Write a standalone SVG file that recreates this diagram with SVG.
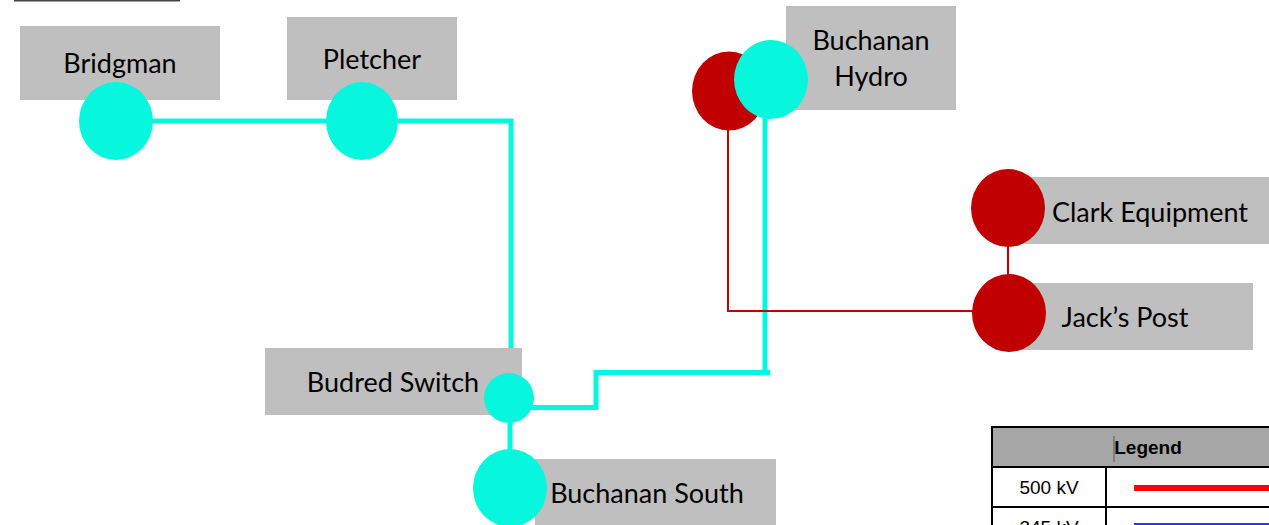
<svg xmlns="http://www.w3.org/2000/svg" width="1269" height="525" viewBox="0 0 1269 525">
<style>
.box{fill:#bfbfbf}
.lbl{font-family:Lato,"Open Sans",sans-serif;font-size:27px;fill:#000;text-anchor:middle}
.cyan{fill:#06f7dd}
.red{fill:#c00000}
.cl{stroke:#06f7dd;stroke-width:5;fill:none}
.rl{stroke:#c00000;stroke-width:2;fill:none}
.lg{font-family:"Liberation Sans",Arial,sans-serif;font-size:19px;fill:#000;text-anchor:middle}
</style>
<rect width="1269" height="525" fill="#fff"/>
<line x1="14" y1="0.5" x2="180" y2="0.5" stroke="#444" stroke-width="2"/>
<g id="connectors">
<polyline class="cl" points="116,121 511,121 511,350"/>
<polyline class="cl" points="509,407.5 596,407.5 596,372.5 770,372.5"/>
<line class="cl" x1="765" y1="372.5" x2="765" y2="100"/>
<line class="cl" x1="510" y1="410" x2="510" y2="460"/>
<polyline class="rl" points="728,120 728,311 985,311"/>
<line class="rl" x1="1008" y1="240" x2="1008" y2="285"/>
</g>
<g id="bridgman"><rect class="box" x="20" y="26" width="200" height="74"/><text class="lbl" x="120" y="73">Bridgman</text><ellipse class="cyan" cx="116" cy="121" rx="37" ry="39"/></g>
<g id="pletcher"><rect class="box" x="287" y="17" width="170" height="83"/><text class="lbl" x="372" y="69">Pletcher</text><ellipse class="cyan" cx="362" cy="121" rx="36" ry="39"/></g>
<g id="budred"><rect class="box" x="265" y="348" width="257" height="67"/><text class="lbl" x="393" y="392">Budred Switch</text><circle class="cyan" cx="509" cy="398" r="25"/></g>
<g id="buchanan-south"><rect class="box" x="535" y="459" width="241" height="66"/><text class="lbl" x="647" y="503">Buchanan South</text><ellipse class="cyan" cx="510" cy="488" rx="37" ry="39"/></g>
<g id="buchanan-hydro"><rect class="box" x="786" y="6" width="170" height="104"/><text class="lbl" x="871" y="50">Buchanan</text><text class="lbl" x="871" y="86">Hydro</text><ellipse class="red" cx="729" cy="91" rx="37" ry="39.5"/><ellipse class="cyan" cx="771" cy="79.5" rx="37" ry="39.5"/></g>
<g id="clark"><rect class="box" x="1010" y="177" width="259" height="67"/><text class="lbl" x="1150" y="222">Clark Equipment</text><ellipse class="red" cx="1008" cy="208" rx="37" ry="39"/></g>
<g id="jacks"><rect class="box" x="995" y="283" width="258" height="67"/><text class="lbl" x="1125" y="327">Jack’s Post</text><ellipse class="red" cx="1009" cy="313" rx="37" ry="39"/></g>
<g id="legend">
<rect x="992" y="427" width="290" height="110" fill="#fff" stroke="#000" stroke-width="2"/>
<rect x="993" y="428" width="288" height="39" fill="#a6a6a6"/>
<line x1="992" y1="467" x2="1269" y2="467" stroke="#000" stroke-width="2"/>
<line x1="992" y1="507" x2="1269" y2="507" stroke="#000" stroke-width="2"/>
<line x1="1106" y1="467" x2="1106" y2="525" stroke="#000" stroke-width="2"/>
<line x1="1114" y1="436" x2="1114" y2="462" stroke="#555" stroke-width="1"/>
<text class="lg" x="1148" y="454" font-weight="bold" font-size="18.5">Legend</text>
<text class="lg" x="1049" y="494">500 kV</text>
<text class="lg" x="1049" y="534">345 kV</text>
<line x1="1134" y1="488" x2="1269" y2="488" stroke="#ff0000" stroke-width="6"/>
<line x1="1134" y1="524" x2="1269" y2="524" stroke="#3333ff" stroke-width="2"/>
</g>
</svg>
